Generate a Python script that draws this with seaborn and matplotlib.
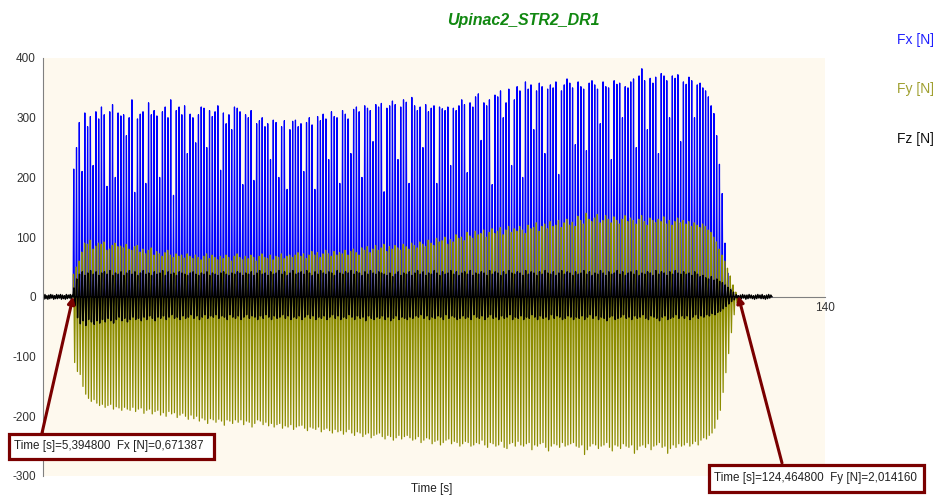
import numpy as np
import matplotlib
matplotlib.use("Agg")
import matplotlib.pyplot as plt
from matplotlib.patches import Rectangle
import seaborn as sns

# Tiempos (s)
t_inicio = 5.3948
t_fin = 124.4648
t_reposo_fin = 130.5

# Pico de cada ciclo (N), leido a ojo de la grafica (20 ciclos por fila)
fx_pico = [214, 250, 292, 210, 308, 285, 302, 220, 310, 298, 318, 305, 185, 310, 322, 200, 308, 303, 305, 270,
           300, 330, 175, 298, 306, 310, 190, 325, 305, 312, 303, 200, 310, 318, 300, 330, 170, 312, 318, 305,
           320, 240, 306, 300, 258, 305, 318, 316, 250, 312, 302, 310, 320, 212, 308, 290, 305, 280, 318, 316,
           310, 188, 305, 300, 312, 195, 290, 295, 300, 285, 290, 230, 296, 292, 200, 285, 295, 180, 280, 294,
           296, 285, 290, 210, 292, 300, 288, 180, 302, 295, 306, 298, 230, 310, 302, 300, 190, 312, 306, 298,
           240, 314, 318, 310, 200, 320, 316, 312, 260, 322, 318, 324, 176, 316, 320, 328, 322, 230, 318, 330,
           326, 190, 334, 320, 312, 318, 250, 322, 310, 316, 320, 190, 318, 315, 312, 318, 220, 316, 312, 320,
           330, 322, 208, 325, 318, 335, 340, 262, 325, 320, 330, 188, 338, 335, 345, 300, 325, 348, 220, 330,
           352, 345, 200, 360, 348, 355, 280, 345, 358, 352, 240, 348, 355, 350, 360, 205, 345, 355, 365, 358,
           350, 255, 360, 352, 348, 245, 358, 362, 355, 348, 290, 360, 352, 350, 230, 362, 356, 358, 300, 352,
           350, 360, 365, 250, 370, 382, 362, 280, 366, 358, 368, 240, 374, 370, 362, 300, 370, 366, 372, 260,
           360, 356, 368, 362, 300, 355, 358, 350, 345, 335, 320, 307, 270, 222, 173, 90, 40, 15, 5, 3]

fy_max = [38, 50, 60, 75, 90, 88, 95, 80, 85, 90, 88, 92, 78, 80, 86, 90, 84, 85, 82, 88,
          80, 78, 84, 86, 75, 80, 72, 78, 82, 70, 76, 72, 68, 74, 78, 70, 66, 72, 68, 70,
          65, 72, 68, 64, 70, 66, 62, 68, 72, 64, 70, 66, 62, 68, 64, 70, 66, 60, 68, 72,
          66, 62, 68, 64, 70, 66, 60, 68, 72, 66, 64, 70, 62, 68, 66, 72, 64, 68, 70, 66,
          70, 74, 68, 72, 64, 70, 76, 70, 74, 66, 72, 78, 72, 68, 76, 70, 74, 72, 78, 70,
          76, 80, 74, 70, 82, 78, 84, 74, 80, 86, 78, 82, 88, 76, 84, 80, 86, 82, 78, 88,
          84, 80, 90, 86, 82, 92, 88, 84, 95, 90, 86, 98, 92, 94, 100, 88, 96, 92, 104, 98,
          100, 94, 108, 102, 98, 110, 104, 106, 112, 100, 108, 114, 106, 110, 116, 104, 112, 118, 108, 114,
          110, 118, 112, 106, 120, 114, 116, 124, 110, 118, 122, 114, 126, 118, 120, 128, 116, 124, 130, 120,
          125, 118, 135, 128, 122, 140, 130, 126, 132, 138, 124, 128, 136, 130, 124, 134, 128, 122, 130, 136,
          126, 132, 128, 122, 130, 136, 126, 120, 132, 128, 124, 130, 126, 134, 122, 128, 120, 126, 132, 124,
          128, 122, 126, 118, 124, 120, 116, 122, 118, 112, 108, 100, 92, 80, 70, 60, 48, 35, 20, 8]

fy_min = [-110, -125, -130, -150, -163, -170, -175, -172, -178, -182, -180, -185, -182, -180, -188, -184, -186, -190, -185, -188,
          -190, -185, -192, -188, -186, -195, -190, -188, -196, -192, -190, -198, -194, -200, -192, -196, -194, -202, -198, -195,
          -200, -205, -198, -204, -200, -208, -203, -206, -212, -204, -206, -210, -205, -208, -215, -206, -208, -212, -206, -210,
          -206, -214, -208, -210, -218, -212, -206, -208, -214, -210, -216, -212, -218, -214, -212, -220, -216, -218, -214, -222,
          -218, -216, -215, -220, -224, -218, -220, -222, -218, -226, -222, -220, -224, -228, -222, -226, -224, -230, -226, -222,
          -228, -232, -226, -228, -234, -230, -228, -236, -232, -230, -228, -234, -238, -232, -234, -240, -236, -232, -238, -234,
          -232, -236, -240, -238, -234, -244, -240, -236, -238, -246, -242, -240, -248, -244, -240, -238, -246, -242, -244, -250,
          -246, -242, -244, -250, -248, -244, -246, -240, -248, -252, -244, -246, -250, -248, -242, -252, -254, -246, -244, -250,
          -242, -248, -250, -246, -244, -256, -248, -250, -246, -244, -252, -258, -250, -246, -248, -252, -244, -250, -248, -246,
          -244, -250, -252, -248, -264, -256, -250, -246, -248, -254, -250, -248, -244, -252, -258, -248, -250, -254, -246, -250,
          -252, -248, -262, -256, -250, -248, -252, -246, -256, -250, -248, -244, -252, -250, -262, -254, -248, -252, -246, -250,
          -248, -244, -250, -246, -242, -248, -240, -236, -238, -232, -228, -220, -205, -190, -160, -127, -95, -60, -30, -10]

fz_max = [15, 30, 38, 42, 36, 40, 44, 38, 42, 36, 40, 42, 38, 44, 36, 40, 38, 42, 36, 40,
          44, 38, 42, 36, 40, 44, 38, 40, 36, 42, 38, 40, 44, 36, 42, 38, 40, 36, 42, 40,
          38, 36, 40, 42, 38, 36, 40, 38, 42, 36, 40, 38, 36, 40, 42, 38, 36, 40, 38, 42,
          40, 36, 40, 38, 42, 36, 40, 44, 38, 40, 36, 42, 38, 40, 44, 38, 42, 36, 40, 44,
          38, 40, 42, 38, 44, 40, 36, 42, 38, 44, 40, 38, 42, 40, 36, 44, 40, 38, 42, 40,
          44, 38, 42, 40, 36, 42, 38, 44, 40, 38, 42, 40, 38, 36, 40, 34, 38, 42, 36, 40,
          38, 42, 36, 40, 44, 38, 42, 36, 40, 38, 44, 40, 36, 42, 38, 40, 44, 38, 42, 36,
          40, 42, 38, 44, 36, 40, 38, 42, 40, 36, 44, 38, 42, 40, 36, 42, 38, 44, 40, 38,
          42, 40, 36, 44, 38, 42, 40, 36, 42, 38, 44, 40, 38, 42, 36, 40, 44, 38, 42, 40,
          36, 42, 38, 40, 44, 38, 42, 36, 40, 38, 44, 40, 36, 42, 38, 40, 44, 38, 42, 36,
          40, 42, 38, 44, 36, 40, 38, 42, 40, 36, 44, 38, 42, 40, 36, 42, 38, 44, 40, 38,
          42, 38, 40, 36, 42, 38, 34, 36, 32, 30, 34, 28, 30, 26, 24, 20, 16, 12, 8, 4]

fz_min = [-15, -35, -45, -40, -48, -38, -42, -46, -40, -44, -38, -42, -36, -40, -44, -38, -34, -40, -36, -42,
          -38, -34, -38, -36, -40, -34, -38, -32, -36, -40, -34, -36, -32, -38, -34, -30, -36, -34, -38, -32,
          -36, -34, -30, -36, -32, -38, -34, -30, -36, -32, -34, -30, -36, -32, -34, -38, -30, -34, -36, -32,
          -38, -34, -30, -36, -32, -34, -38, -32, -36, -30, -34, -38, -32, -36, -34, -30, -36, -32, -38, -34,
          -36, -32, -38, -34, -30, -36, -32, -38, -34, -36, -32, -38, -34, -30, -36, -32, -38, -34, -36, -30,
          -34, -38, -32, -36, -34, -40, -32, -36, -38, -34, -36, -32, -38, -34, -40, -36, -32, -38, -34, -36,
          -38, -34, -36, -32, -34, -30, -36, -32, -38, -34, -36, -32, -34, -38, -30, -36, -32, -34, -38, -36,
          -32, -36, -34, -38, -30, -34, -36, -32, -38, -34, -30, -36, -34, -38, -32, -36, -34, -30, -38, -34,
          -36, -32, -38, -34, -36, -30, -34, -38, -32, -36, -34, -38, -30, -36, -32, -34, -38, -36, -32, -34,
          -38, -34, -36, -32, -38, -34, -30, -36, -32, -38, -34, -36, -40, -34, -32, -38, -36, -34, -30, -36,
          -34, -38, -32, -36, -34, -30, -36, -38, -32, -34, -36, -40, -34, -32, -38, -36, -34, -30, -36, -32,
          -36, -32, -38, -34, -30, -36, -32, -34, -30, -32, -28, -30, -26, -24, -20, -16, -12, -8, -5, -2]

# ruido en reposo (antes y despues del ejercicio)
reposo_ini = [3, -4, 4, -3, 2, -4, 3, -3, 4, -2, 3, -4, 2, -3, 4, -3, 3, -2, 4, -4, 3, -3,
              2, -4, 4, -3, 3, -2, 4, -4, 3, 0]
reposo_fin = [2, -4, 3, -3, 4, -2, 3, -4, 3, -3, 4, -2, 3, -3, 2, -4, 3, -3, 4, -2, 3, -3,
              4, -3, 2, -4, 3, -3, 4, -2, 3, 0]

n = len(fx_pico)
periodo = (t_fin - t_inicio) / n
inicios = t_inicio + np.arange(n) * periodo


def armar_senal(fases, columnas, reposo):
    # une los ciclos y los tramos de reposo en una sola linea
    t = list(np.linspace(0, t_inicio, len(reposo_ini)))
    v = [r * reposo for r in reposo_ini]
    for i in range(n):
        for f, col in zip(fases, columnas):
            t.append(inicios[i] + f * periodo)
            v.append(col[i])
    t += list(np.linspace(t_fin, t_reposo_fin, len(reposo_fin)))
    v += [r * reposo for r in reposo_fin]
    return np.array(t), np.array(v)


ceros = [0] * n
t_fx, v_fx = armar_senal([0.0, 0.22, 0.45], [ceros, fx_pico, ceros], 0.5)
t_fy, v_fy = armar_senal([0.0, 0.12, 0.3, 0.55, 0.8],
                         [ceros, fy_max, ceros, fy_min, ceros], 0.5)
t_fz, v_fz = armar_senal([0.0, 0.3, 0.6, 0.85], [ceros, fz_max, fz_min, ceros], 1.0)

sns.set_style("white")
plt.rcParams['font.family'] = ['Liberation Sans', 'DejaVu Sans']
plt.rcParams['axes.unicode_minus'] = False

W, H = 936, 495
fig = plt.figure(figsize=(W / 100, H / 100), dpi=100)
ax = fig.add_axes([43 / W, 1 - 476 / H, (825 - 43) / W, (476 - 58) / H])
ax.set_facecolor('#FEF9EE')

sns.lineplot(x=t_fx, y=v_fx, ax=ax, color='#0000FF', linewidth=0.9,
             estimator=None, sort=False)
sns.lineplot(x=t_fy, y=v_fy, ax=ax, color='#8C8C00', linewidth=0.9,
             estimator=None, sort=False)
sns.lineplot(x=t_fz, y=v_fz, ax=ax, color='#000000', linewidth=1.0,
             estimator=None, sort=False)

ax.set_xlim(0, 140)
ax.set_ylim(-300, 400)
for s in ['top', 'right']:
    ax.spines[s].set_visible(False)
ax.spines['left'].set_color('#808080')
ax.spines['bottom'].set_color('#808080')
ax.spines['bottom'].set_position(('data', 0))
ax.spines['bottom'].set_zorder(0.5)

ax.set_yticks(range(-300, 401, 100))
ax.set_yticks(range(-250, 400, 100), minor=True)
ax.set_xticks([140])
ax.set_xticklabels(['140'])
ax.tick_params(axis='y', which='major', direction='out', length=4, width=1,
               color='#808080', labelsize=8.5, labelcolor='#333333', pad=1)
ax.tick_params(axis='y', which='minor', direction='out', length=3, width=1,
               color='#808080')
ax.tick_params(axis='x', direction='out', length=3, color='#808080',
               labelsize=8.5, labelcolor='#333333', pad=1)
ax.set_xlabel('')
ax.set_ylabel('')

fig.text(523 / W, 1 - 20 / H, 'Upinac2_STR2_DR1', color='#118811', fontsize=11.5,
         fontweight='bold', fontstyle='italic', ha='center', va='center')
fig.text(897 / W, 1 - 40 / H, 'Fx [N]', color='#2020FF', fontsize=10, va='center')
fig.text(897 / W, 1 - 89 / H, 'Fy [N]', color='#A0A030', fontsize=10, va='center')
fig.text(897 / W, 1 - 139 / H, 'Fz [N]', color='#111111', fontsize=10, va='center')
fig.text(432 / W, 1 - 489 / H, 'Time [s]', fontsize=8.5, color='#222222',
         ha='center', va='center')

# cajas de los cursores
rojo = '#7A0000'
cajas = [((7, 432, 215, 460), 'Time [s]=5,394800  Fx [N]=0,671387'),
         ((707, 463, 925, 493), 'Time [s]=124,464800  Fy [N]=2,014160')]
for (x0, y0, x1, y1), txt in cajas:
    fig.add_artist(Rectangle(((x0 + 1.5) / W, 1 - (y1 - 1.5) / H),
                             (x1 - x0 - 3) / W, (y1 - y0 - 3) / H,
                             transform=fig.transFigure, facecolor='white',
                             edgecolor=rojo, linewidth=2.3, zorder=5))
    fig.text((x0 + 7) / W, 1 - ((y0 + y1) / 2 + 0.5) / H, txt, fontsize=8.4,
             color='#222222', va='center', ha='left', zorder=6)

ax.annotate('', xy=(t_inicio, 0.67), xycoords='data',
            xytext=(42, H - 433), textcoords='figure pixels',
            arrowprops=dict(arrowstyle='-|>', color=rojo, lw=2.2,
                            mutation_scale=10, shrinkA=0, shrinkB=0),
            annotation_clip=False, zorder=7)
ax.annotate('', xy=(t_fin, 2.01), xycoords='data',
            xytext=(782, H - 463), textcoords='figure pixels',
            arrowprops=dict(arrowstyle='-|>', color=rojo, lw=2.2,
                            mutation_scale=10, shrinkA=0, shrinkB=0),
            annotation_clip=False, zorder=7)

fig.savefig('out.png', dpi=100)
